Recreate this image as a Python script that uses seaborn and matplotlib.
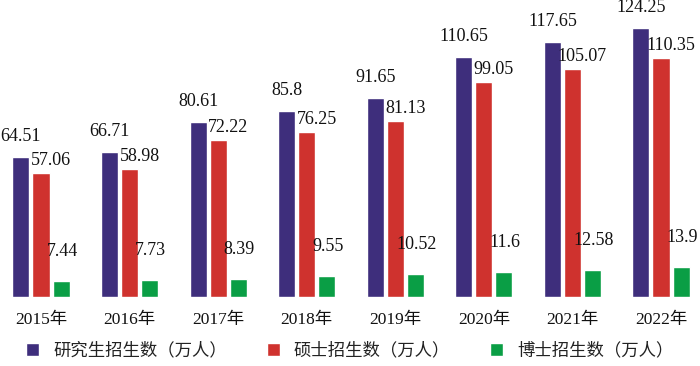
import pandas as pd
import seaborn as sns
import matplotlib.pyplot as plt

# data
years = ["2015年", "2016年", "2017年", "2018年", "2019年", "2020年", "2021年", "2022年"]
total = [64.51, 66.71, 80.61, 85.8, 91.65, 110.65, 117.65, 124.25]
master = [57.06, 58.98, 72.22, 76.25, 81.13, 99.05, 105.07, 110.35]
doctor = [7.44, 7.73, 8.39, 9.55, 10.52, 11.6, 12.58, 13.9]
series = ["研究生招生数（万人）", "硕士招生数（万人）", "博士招生数（万人）"]
colors = ["#3e2e7c", "#cf322e", "#0a9e45"]

df = pd.DataFrame({
    "year": years * 3,
    "value": total + master + doctor,
    "series": [s for s in series for _ in years],
})

sns.set_style("white")
plt.rcParams['font.family'] = ['Liberation Serif', 'Noto Sans CJK SC']

fig = plt.figure(figsize=(7, 3.66), dpi=100)
ax = fig.add_axes([0, 69 / 366, 1, 297 / 366])

sns.barplot(data=df, x="year", y="value", hue="series", palette=colors,
            saturation=1, width=0.68, gap=0.15, ax=ax, legend=True)

ax.set_xlim(-41 / 88.57, (700 - 41) / 88.57)
ax.set_ylim(0, 137)

# value labels: offsets (x, y) in pixels per series
offsets = [(0, 12), (10, 4), (1, 21)]
for cont, vals, (dx, dy) in zip(ax.containers, [total, master, doctor], offsets):
    for bar, v in zip(cont, vals):
        ax.annotate(f"{v:g}", (bar.get_x() + bar.get_width() / 2, bar.get_height()),
                    xytext=(dx, dy), textcoords="offset pixels",
                    ha="center", va="bottom", fontsize=13, color="#111111")

for s in ax.spines.values():
    s.set_visible(False)
ax.set_yticks([])
ax.set_xlabel("")
ax.set_ylabel("")
ax.tick_params(axis="x", length=0, pad=11, labelsize=12.5, labelcolor="#111111")

handles, labels = ax.get_legend_handles_labels()
ax.get_legend().remove()
fig.legend(handles, labels, loc="lower center", bbox_to_anchor=(0.5, -0.025), ncol=3,
           frameon=False, fontsize=12.5, handlelength=0.75, handleheight=0.75,
           handletextpad=0.8, columnspacing=2.3, labelcolor="#222222")

fig.savefig("out.png", dpi=100)
